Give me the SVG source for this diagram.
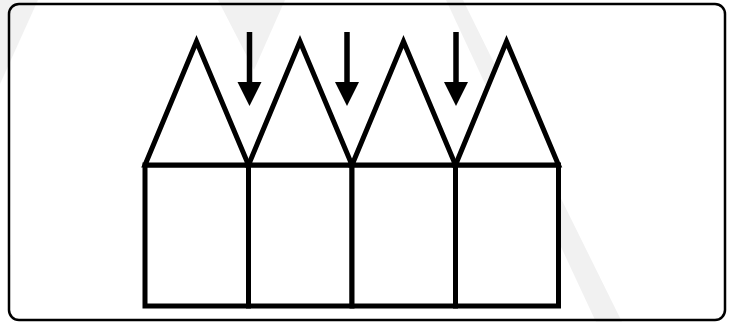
<svg xmlns="http://www.w3.org/2000/svg" width="732" height="322" viewBox="0 0 732 322">
  <style>
    .wm { fill: #f1f1f1; stroke: none; }
    .frame { fill: none; stroke: #000; stroke-width: 2.5; }
    .shape { fill: #fff; stroke: #000; stroke-width: 5; stroke-linejoin: miter; stroke-miterlimit: 10; }
    .shaft { stroke: #000; stroke-width: 5.5; fill: none; }
    .head { fill: #000; stroke: none; }
  </style>
  <defs>
    <g id="arrow">
      <line class="shaft" x1="0" y1="32" x2="0" y2="86"/>
      <polygon class="head" points="-12,82 12,82 0,106"/>
    </g>
  </defs>
  <rect x="0" y="0" width="732" height="322" fill="#fff"/>
  <g id="watermark">
    <polygon class="wm" points="0,0 38,0 0,84"/>
    <polygon class="wm" points="218,0 285,0 254,70"/>
    <polygon class="wm" points="446,0 463,0 622,322 596,322"/>
  </g>
  <rect id="frame" class="frame" x="9" y="4" width="716" height="316" rx="10" ry="10"/>
  <g id="house1">
    <rect class="shape" x="145" y="165" width="103.5" height="141"/>
    <polygon class="shape" points="145,165 196.5,41.5 248.5,165"/>
  </g>
  <g id="house2">
    <rect class="shape" x="248.5" y="165" width="103.5" height="141"/>
    <polygon class="shape" points="248.5,165 300,41.5 352,165"/>
  </g>
  <g id="house3">
    <rect class="shape" x="352" y="165" width="103.5" height="141"/>
    <polygon class="shape" points="352,165 403.5,41.5 455.5,165"/>
  </g>
  <g id="house4">
    <rect class="shape" x="455.5" y="165" width="103" height="141"/>
    <polygon class="shape" points="455.5,165 506.5,41.5 558.5,165"/>
  </g>
  <g id="connectors">
    <use href="#arrow" transform="translate(249.5,0)"/>
    <use href="#arrow" transform="translate(347,0)"/>
    <use href="#arrow" transform="translate(456,0)"/>
  </g>
</svg>
